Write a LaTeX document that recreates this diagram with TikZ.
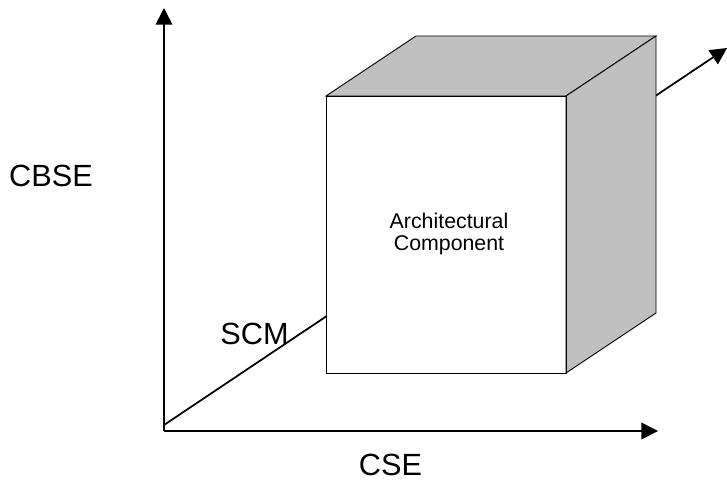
\documentclass[tikz,border=0pt]{standalone}
\usepackage{fontspec}
\setmainfont{Liberation Sans}
\usetikzlibrary{arrows.meta}
\begin{document}
\begin{tikzpicture}[x=0.75pt,y=-0.75pt,
  axis/.style={line width=1.3pt,-{Triangle[length=12.5pt,width=12.5pt]}},
  face/.style={draw=black,line width=0.7pt,line join=miter},
  big/.style={font=\fontsize{23}{27}\selectfont,inner sep=0pt},
  small/.style={font=\fontsize{16}{16.5}\selectfont,align=center,inner sep=0pt}]
\useasboundingbox (0,0) rectangle (727,486);
% coordinates
\coordinate (O) at (164,431);
\coordinate (Ytip) at (164,8);
\coordinate (Xtip) at (658,431);
\coordinate (D0) at (164,425);
\coordinate (Dtip) at (727,48);
% axes
\draw[axis] (O) -- (Ytip);
\draw[axis] (O) -- (Xtip);
\draw[axis] (D0) -- (Dtip);
% cube
\coordinate (A) at (326,96);
\coordinate (B) at (566,96);
\coordinate (C) at (566,373);
\coordinate (E) at (326,373);
\coordinate (F) at (416,36);
\coordinate (G) at (656,36);
\coordinate (H) at (656,313);
\fill[white] (A) -- (B) -- (C) -- (E) -- cycle;
\draw[face,fill={rgb,255:red,192;green,192;blue,192}] (A) -- (F) -- (G) -- (B) -- cycle;
\draw[face,fill={rgb,255:red,192;green,192;blue,192}] (B) -- (G) -- (H) -- (C) -- cycle;
\draw[face] (A) -- (B) -- (C) -- (E) -- cycle;
% labels
\node[big] (cbse) at (51,176) {CBSE};
\node[big] (scm) at (254.5,334) {SCM};
\node[big] (cse) at (390.5,465) {CSE};
\node[small] (ac) at (449,234) {Architectural\\Component};
\end{tikzpicture}
\end{document}
